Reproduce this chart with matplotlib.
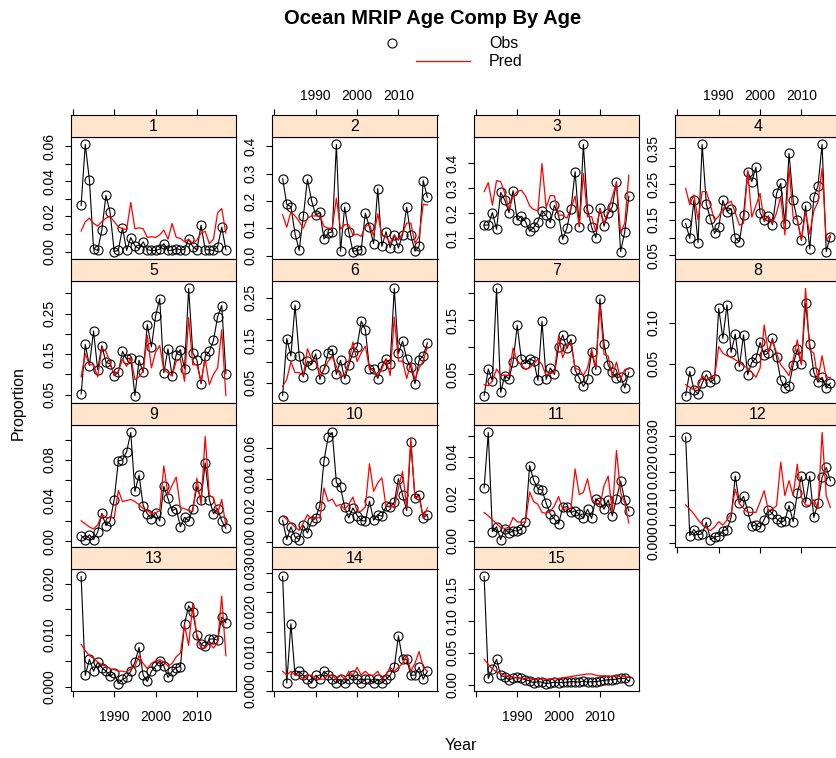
import matplotlib
matplotlib.use("Agg")
import matplotlib.pyplot as plt
from matplotlib.lines import Line2D

plt.rcParams['font.family'] = ['Liberation Sans', 'DejaVu Sans']

# ---- data ----
years = list(range(1982, 2018))

obs_1 = [0.0263, 0.061, 0.0408, 0.0017, 0.0006, 0.0122, 0.032, 0.0224, 0.0, 0.0006,
         0.0135, 0.0006, 0.0079, 0.0032, 0.0017, 0.0055, 0.001, 0.0006, 0.0006, 0.0013,
         0.0045, 0.0006, 0.0006, 0.0017, 0.001, 0.001, 0.007, 0.0028, 0.001, 0.015,
         0.001, 0.001, 0.0006, 0.0028, 0.0139, 0.001]
pred_1 = [0.0117, 0.017, 0.019, 0.016, 0.0145, 0.017, 0.019, 0.020, 0.017, 0.014,
          0.013, 0.0125, 0.028, 0.013, 0.0135, 0.013, 0.008, 0.0085, 0.008, 0.0095,
          0.0122, 0.007, 0.016, 0.008, 0.0075, 0.0055, 0.007, 0.0045, 0.0065, 0.0105,
          0.0115, 0.0045, 0.007, 0.022, 0.0245, 0.0105]

obs_2 = [0.281, 0.187, 0.179, 0.08, 0.019, 0.143, 0.279, 0.201, 0.148, 0.158,
         0.061, 0.082, 0.087, 0.406, 0.016, 0.177, 0.086, 0.015, 0.019, 0.022,
         0.155, 0.104, 0.044, 0.245, 0.034, 0.087, 0.029, 0.075, 0.028, 0.075,
         0.177, 0.075, 0.016, 0.034, 0.274, 0.213]
pred_2 = [0.149, 0.104, 0.16, 0.145, 0.125, 0.10, 0.137, 0.145, 0.145, 0.145,
          0.107, 0.10, 0.10, 0.21, 0.097, 0.113, 0.113, 0.075, 0.078, 0.07,
          0.107, 0.113, 0.073, 0.153, 0.073, 0.07, 0.046, 0.076, 0.056, 0.082,
          0.119, 0.119, 0.046, 0.07, 0.188, 0.185]

obs_3 = [0.153, 0.153, 0.203, 0.136, 0.284, 0.253, 0.203, 0.291, 0.173, 0.189,
         0.167, 0.128, 0.144, 0.167, 0.211, 0.192, 0.163, 0.232, 0.192, 0.096,
         0.14, 0.219, 0.367, 0.147, 0.476, 0.216, 0.144, 0.103, 0.22, 0.149,
         0.20, 0.227, 0.327, 0.047, 0.125, 0.269]
pred_3 = [0.287, 0.323, 0.233, 0.331, 0.327, 0.28, 0.216, 0.27, 0.287, 0.293,
          0.27, 0.23, 0.215, 0.21, 0.40, 0.223, 0.272, 0.27, 0.193, 0.193,
          0.18, 0.22, 0.269, 0.147, 0.36, 0.187, 0.187, 0.127, 0.22, 0.16,
          0.21, 0.267, 0.323, 0.123, 0.16, 0.353]

obs_4 = [0.140, 0.098, 0.204, 0.086, 0.361, 0.194, 0.153, 0.112, 0.129, 0.204,
         0.173, 0.181, 0.098, 0.089, 0.164, 0.285, 0.257, 0.297, 0.17, 0.148,
         0.161, 0.136, 0.224, 0.252, 0.139, 0.336, 0.204, 0.15, 0.092, 0.189,
         0.068, 0.213, 0.245, 0.361, 0.061, 0.103]
pred_4 = [0.238, 0.192, 0.22, 0.15, 0.229, 0.229, 0.19, 0.148, 0.16, 0.18,
          0.195, 0.202, 0.17, 0.135, 0.14, 0.288, 0.157, 0.19, 0.224, 0.145,
          0.16, 0.14, 0.17, 0.215, 0.108, 0.297, 0.157, 0.15, 0.094, 0.172,
          0.11, 0.175, 0.2, 0.294, 0.092, 0.108]

obs_5 = [0.052, 0.174, 0.122, 0.207, 0.112, 0.171, 0.13, 0.126, 0.097, 0.105,
         0.157, 0.138, 0.14, 0.048, 0.135, 0.105, 0.223, 0.168, 0.244, 0.287,
         0.104, 0.163, 0.097, 0.149, 0.161, 0.114, 0.312, 0.153, 0.135, 0.077,
         0.145, 0.157, 0.184, 0.242, 0.27, 0.102]
pred_5 = [0.094, 0.151, 0.124, 0.124, 0.094, 0.165, 0.157, 0.129, 0.098, 0.108,
          0.137, 0.12, 0.143, 0.087, 0.094, 0.108, 0.196, 0.116, 0.155, 0.171,
          0.112, 0.104, 0.096, 0.133, 0.137, 0.083, 0.24, 0.124, 0.124, 0.083,
          0.137, 0.075, 0.1, 0.116, 0.21, 0.048]

obs_6 = [0.02, 0.154, 0.113, 0.233, 0.114, 0.064, 0.101, 0.093, 0.118, 0.058,
         0.083, 0.121, 0.128, 0.07, 0.103, 0.06, 0.091, 0.122, 0.135, 0.195,
         0.175, 0.083, 0.083, 0.06, 0.089, 0.106, 0.095, 0.272, 0.119, 0.148,
         0.106, 0.087, 0.048, 0.103, 0.114, 0.144]
pred_6 = [0.042, 0.058, 0.099, 0.074, 0.074, 0.067, 0.13, 0.105, 0.101, 0.067,
          0.081, 0.101, 0.111, 0.089, 0.064, 0.069, 0.101, 0.146, 0.1, 0.12,
          0.136, 0.083, 0.078, 0.067, 0.083, 0.106, 0.067, 0.205, 0.101, 0.101,
          0.06, 0.097, 0.058, 0.085, 0.101, 0.135]

obs_7 = [0.011, 0.06, 0.038, 0.209, 0.017, 0.048, 0.042, 0.073, 0.141, 0.078,
         0.07, 0.079, 0.075, 0.039, 0.148, 0.041, 0.062, 0.05, 0.101, 0.123,
         0.098, 0.115, 0.058, 0.044, 0.028, 0.041, 0.091, 0.059, 0.19, 0.106,
         0.067, 0.054, 0.044, 0.046, 0.025, 0.054]
pred_7 = [0.031, 0.029, 0.038, 0.06, 0.048, 0.049, 0.048, 0.099, 0.074, 0.068,
          0.059, 0.062, 0.07, 0.078, 0.068, 0.048, 0.053, 0.053, 0.121, 0.081,
          0.102, 0.109, 0.061, 0.059, 0.048, 0.062, 0.096, 0.062, 0.178, 0.087,
          0.084, 0.046, 0.073, 0.041, 0.059, 0.06]

obs_8 = [0.012, 0.041, 0.019, 0.014, 0.027, 0.037, 0.028, 0.032, 0.117, 0.081,
         0.121, 0.064, 0.086, 0.047, 0.085, 0.037, 0.052, 0.057, 0.076, 0.061,
         0.063, 0.081, 0.058, 0.031, 0.021, 0.024, 0.049, 0.068, 0.05, 0.123,
         0.074, 0.04, 0.028, 0.034, 0.021, 0.027]
pred_8 = [0.025, 0.022, 0.019, 0.023, 0.036, 0.031, 0.033, 0.034, 0.071, 0.063,
          0.06, 0.058, 0.055, 0.052, 0.048, 0.045, 0.04, 0.034, 0.045, 0.097,
          0.063, 0.079, 0.063, 0.049, 0.043, 0.036, 0.055, 0.079, 0.049, 0.141,
          0.067, 0.063, 0.031, 0.06, 0.033, 0.034]

obs_9 = [0.0055, 0.0016, 0.0062, 0.0016, 0.0088, 0.0274, 0.0153, 0.02, 0.041, 0.079,
         0.08, 0.088, 0.107, 0.049, 0.065, 0.035, 0.027, 0.022, 0.028, 0.02,
         0.054, 0.042, 0.03, 0.032, 0.0143, 0.0235, 0.02, 0.032, 0.054, 0.041,
         0.077, 0.041, 0.027, 0.032, 0.02, 0.0127]
pred_9 = [0.02, 0.017, 0.014, 0.012, 0.016, 0.026, 0.023, 0.023, 0.023, 0.05,
          0.039, 0.04, 0.041, 0.039, 0.036, 0.032, 0.03, 0.027, 0.028, 0.03,
          0.074, 0.046, 0.055, 0.063, 0.033, 0.032, 0.03, 0.029, 0.062, 0.036,
          0.103, 0.045, 0.043, 0.027, 0.041, 0.015]

obs_10 = [0.0138, 0.0015, 0.0096, 0.0032, 0.0015, 0.0106, 0.0057, 0.0132, 0.0153, 0.0232,
          0.052, 0.067, 0.07, 0.038, 0.035, 0.0223, 0.0153, 0.0217, 0.0168, 0.0138,
          0.0132, 0.026, 0.0138, 0.0174, 0.0164, 0.0228, 0.0223, 0.0253, 0.0404, 0.0302,
          0.02, 0.0636, 0.0281, 0.0302, 0.0153, 0.0174]
pred_10 = [0.0164, 0.0145, 0.012, 0.0095, 0.0074, 0.012, 0.0174, 0.0147, 0.0155, 0.0153,
           0.0345, 0.026, 0.0274, 0.0228, 0.024, 0.0206, 0.024, 0.0287, 0.0196, 0.0196,
           0.0223, 0.05, 0.0323, 0.0377, 0.041, 0.0228, 0.023, 0.022, 0.0345, 0.045,
           0.022, 0.066, 0.028, 0.029, 0.0153, 0.0217]

obs_11 = [0.0252, 0.0516, 0.0043, 0.0066, 0.0005, 0.0055, 0.0036, 0.0047, 0.0046, 0.0055,
          0.009, 0.0358, 0.0287, 0.0248, 0.0241, 0.0178, 0.0126, 0.0103, 0.0079, 0.0158,
          0.0162, 0.0134, 0.0142, 0.0126, 0.0106, 0.015, 0.0106, 0.02, 0.0185, 0.015,
          0.0194, 0.0118, 0.02, 0.0284, 0.0194, 0.0142]
pred_11 = [0.0134, 0.0118, 0.01, 0.008, 0.0063, 0.0058, 0.0063, 0.011, 0.009, 0.0087,
           0.009, 0.0232, 0.0185, 0.0173, 0.0134, 0.013, 0.0138, 0.0166, 0.021, 0.015,
           0.015, 0.0153, 0.0342, 0.022, 0.0229, 0.0295, 0.0197, 0.018, 0.0169, 0.0263,
           0.0308, 0.0134, 0.043, 0.0229, 0.018, 0.0084]

obs_12 = [0.0298, 0.0021, 0.0038, 0.0023, 0.0026, 0.0058, 0.001, 0.0017, 0.0019, 0.0035,
          0.0037, 0.0072, 0.0188, 0.0112, 0.0131, 0.0091, 0.0047, 0.0051, 0.0045, 0.0066,
          0.0094, 0.0082, 0.0068, 0.0058, 0.0063, 0.0105, 0.006, 0.014, 0.0187, 0.0114,
          0.0187, 0.0072, 0.0112, 0.0184, 0.0212, 0.0175]
pred_12 = [0.0107, 0.0095, 0.0082, 0.0065, 0.0052, 0.0042, 0.0035, 0.0045, 0.006, 0.005,
           0.0065, 0.0082, 0.0151, 0.011, 0.0098, 0.0086, 0.0086, 0.0086, 0.0115, 0.0147,
           0.0091, 0.0095, 0.0105, 0.0227, 0.0133, 0.0175, 0.0133, 0.0221, 0.0128, 0.0107,
           0.0105, 0.0122, 0.0096, 0.031, 0.0133, 0.01]

obs_13 = [0.0214, 0.0022, 0.0053, 0.003, 0.0047, 0.0037, 0.003, 0.002, 0.0026, 0.0006,
          0.0014, 0.0018, 0.003, 0.0047, 0.0076, 0.0022, 0.001, 0.003, 0.004, 0.005,
          0.004, 0.0018, 0.003, 0.0037, 0.0039, 0.0122, 0.0157, 0.0145, 0.01, 0.0082,
          0.0078, 0.0092, 0.0093, 0.009, 0.0135, 0.0124]
pred_13 = [0.0082, 0.007, 0.006, 0.0055, 0.0048, 0.0042, 0.004, 0.0035, 0.0033, 0.003,
           0.003, 0.0028, 0.0035, 0.004, 0.006, 0.0045, 0.0035, 0.0045, 0.005, 0.0052,
           0.0048, 0.004, 0.0045, 0.0058, 0.0065, 0.012, 0.008, 0.016, 0.0095, 0.0075,
           0.0075, 0.0085, 0.0075, 0.0085, 0.0176, 0.006]

obs_14 = [0.029, 0.002, 0.017, 0.004, 0.005, 0.004, 0.003, 0.002, 0.004, 0.003,
          0.005, 0.004, 0.003, 0.002, 0.003, 0.002, 0.003, 0.004, 0.003, 0.002,
          0.003, 0.003, 0.002, 0.003, 0.002, 0.003, 0.004, 0.006, 0.014, 0.008,
          0.008, 0.004, 0.004, 0.006, 0.003, 0.005]
pred_14 = [0.005, 0.004, 0.005, 0.004, 0.004, 0.003, 0.004, 0.004, 0.003, 0.003,
           0.003, 0.004, 0.004, 0.003, 0.004, 0.003, 0.005, 0.004, 0.006, 0.004,
           0.005, 0.004, 0.004, 0.005, 0.003, 0.004, 0.006, 0.005, 0.006, 0.007,
           0.009, 0.005, 0.007, 0.01, 0.006, 0.005]

obs_15 = [0.17, 0.01, 0.025, 0.04, 0.015, 0.012, 0.008, 0.01, 0.012, 0.01,
          0.008, 0.006, 0.003, 0.005, 0.004, 0.002, 0.003, 0.004, 0.003, 0.004,
          0.004, 0.005, 0.005, 0.004, 0.006, 0.004, 0.005, 0.005, 0.006, 0.007,
          0.008, 0.008, 0.009, 0.01, 0.01, 0.006]
pred_15 = [0.04, 0.032, 0.025, 0.02, 0.018, 0.015, 0.013, 0.012, 0.011, 0.01,
           0.01, 0.01, 0.009, 0.009, 0.009, 0.009, 0.009, 0.01, 0.01, 0.011,
           0.012, 0.013, 0.014, 0.015, 0.016, 0.017, 0.017, 0.015, 0.014, 0.014,
           0.013, 0.013, 0.014, 0.013, 0.013, 0.012]

ages = list(range(1, 16))
obs_all = [obs_1, obs_2, obs_3, obs_4, obs_5, obs_6, obs_7, obs_8,
           obs_9, obs_10, obs_11, obs_12, obs_13, obs_14, obs_15]
pred_all = [pred_1, pred_2, pred_3, pred_4, pred_5, pred_6, pred_7, pred_8,
            pred_9, pred_10, pred_11, pred_12, pred_13, pred_14, pred_15]

# y tick setup per panel: (step, number of ticks, label every n-th, decimals)
ytick_cfg = {1: (0.01, 7, 2, 2), 2: (0.1, 5, 1, 1), 3: (0.1, 4, 1, 1),
             4: (0.05, 7, 2, 2), 5: (0.05, 6, 2, 2), 6: (0.05, 5, 2, 2),
             7: (0.05, 4, 2, 2), 8: (0.05, 2, 1, 2), 9: (0.02, 6, 2, 2),
             10: (0.02, 4, 1, 2), 11: (0.01, 6, 2, 2), 12: (0.005, 7, 2, 3),
             13: (0.005, 5, 2, 3), 14: (0.005, 7, 2, 3), 15: (0.05, 4, 1, 2)}
ytick_start = {3: 0.1, 4: 0.05, 5: 0.05, 6: 0.05, 7: 0.05, 8: 0.05}

# ---- layout in pixels ----
W, H = 837, 758
fig = plt.figure(figsize=(W / 100, H / 100), dpi=100)


def box(x, y, w, h):
    return [x / W, 1 - (y + h) / H, w / W, h / H]


col_left = [71, 272.5, 474, 675.5]
row_top = [115, 259, 403, 547]
pw, ph, sh = 165, 122, 22
xlim = (years[0] - 0.07 * (years[-1] - years[0]), years[-1] + 0.07 * (years[-1] - years[0]))
xt = [1980, 1990, 2000, 2010]
strip_col = '#FFE5CC'
tick_kw = dict(direction='out', length=4.5, width=0.8, pad=4, labelsize=10)

for i, age in enumerate(ages):
    r, c = divmod(i, 4)
    o = obs_all[i]
    p = pred_all[i]
    ax = fig.add_axes(box(col_left[c], row_top[r] + sh, pw, ph))
    st = fig.add_axes(box(col_left[c], row_top[r], pw, sh))

    ax.plot(years, o, color='black', lw=0.8, marker='o', ms=6.5, mfc='none',
            mec='black', mew=0.8)
    ax.plot(years, p, color='red', lw=0.9)

    lo = min(min(o), min(p))
    hi = max(max(o), max(p))
    pad = 0.07 * (hi - lo)
    ax.set_ylim(lo - pad, hi + pad)
    ax.set_xlim(xlim)

    step, n, every, dec = ytick_cfg[age]
    start = ytick_start.get(age, 0.0)
    ticks = [round(start + k * step, 4) for k in range(n)]
    labels = [('%.*f' % (dec, t)) if k % every == 0 else '' for k, t in enumerate(ticks)]
    ax.set_yticks(ticks)
    ax.set_yticklabels(labels, rotation=90, va='center')
    ax.tick_params(axis='y', **dict(tick_kw, pad=6))

    # x axis: bottom of the last panel in each column
    if r == 3 or (r == 2 and c == 3):
        ax.set_xticks(xt)
        if c in (0, 2):
            ax.set_xticklabels(['', '1990', '2000', '2010'])
        else:
            ax.set_xticklabels(['', '', '', ''])
        ax.tick_params(axis='x', **dict(tick_kw, pad=9))
    else:
        ax.set_xticks([])

    for s in ax.spines.values():
        s.set_linewidth(0.8)

    st.set_facecolor(strip_col)
    st.set_xlim(xlim)
    st.set_yticks([])
    st.text(0.5, 0.47, str(age), transform=st.transAxes, ha='center', va='center',
            fontsize=11.5)
    if r == 0:
        st.xaxis.set_ticks_position('top')
        st.set_xticks(xt)
        if c in (1, 3):
            st.set_xticklabels(['', '1990', '2000', '2010'])
        else:
            st.set_xticklabels(['', '', '', ''])
        st.tick_params(axis='x', **tick_kw)
    else:
        st.set_xticks([])
    for s in st.spines.values():
        s.set_linewidth(0.8)

# ---- title, key, axis labels ----
fig.text(433 / W, 1 - 19 / H, 'Ocean MRIP Age Comp By Age', ha='center', va='center',
         fontsize=14.5, fontweight='bold')
fig.add_artist(Line2D([392 / W], [1 - 43 / H], marker='o', ms=6.5, mfc='none',
                      mec='black', mew=0.8, ls='none'))
fig.add_artist(Line2D([416 / W, 470 / W], [1 - 61 / H, 1 - 61 / H], color='red', lw=0.9))
fig.text(489 / W, 1 - 43 / H, 'Obs', ha='left', va='center', fontsize=11.5)
fig.text(489 / W, 1 - 61 / H, 'Pred', ha='left', va='center', fontsize=11.5)

fig.text(18 / W, 1 - 403 / H, 'Proportion', rotation=90, ha='center', va='center',
         fontsize=11.5)
fig.text(461 / W, 1 - 745 / H, 'Year', ha='center', va='center', fontsize=11.5)

fig.savefig('out.png', dpi=100)
